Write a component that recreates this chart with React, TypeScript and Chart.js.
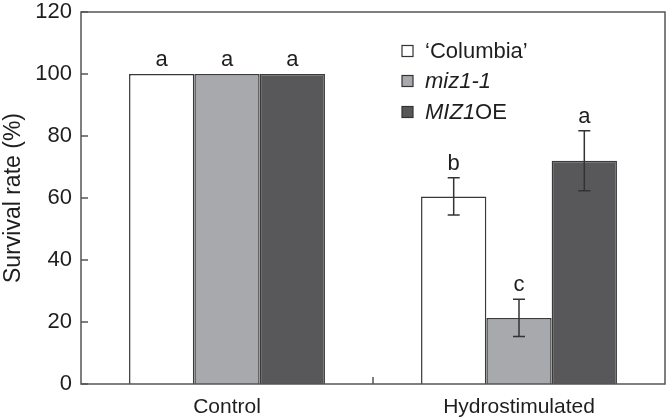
import React, { useEffect, useRef } from "react";
import { Chart, registerables } from "chart.js";

Chart.register(...registerables);

const categories = ["Control", "Hydrostimulated"];
const seriesNames = ["‘Columbia’", "miz1-1", "MIZ1OE"];
const columbia = [100, 60.5];
const miz1 = [100, 21.3];
const miz1oe = [100, 72];
const columbiaErr = [0, 6];
const miz1Err = [0, 6];
const miz1oeErr = [0, 9.7];
const columbiaLetters = ["a", "b"];
const miz1Letters = ["a", "c"];
const miz1oeLetters = ["a", "a"];
const yTicks = [0, 20, 40, 60, 80, 100, 120];

const FONT = "'Liberation Sans', Arial, Helvetica, sans-serif";
const fills = ["#ffffff", "#a8a9ac", "#58585a"];
const AXIS = "#555555";
const EDGE = "#3a3a3a";
const TXT = "#1e1e1e";

export default function App() {
  const ref = useRef<HTMLCanvasElement | null>(null);
  useEffect(() => {
    document.body.style.margin = "0";
    const errs = [columbiaErr, miz1Err, miz1oeErr];
    const letters = [columbiaLetters, miz1Letters, miz1oeLetters];
    const overlay = {
      id: "overlay",
      afterDatasetsDraw(chart: any) {
        const ctx = chart.ctx;
        const ca = chart.chartArea;
        const ys = chart.scales.y;
        const xs = chart.scales.x;
        ctx.save();
        ctx.strokeStyle = AXIS;
        ctx.lineWidth = 1.5;
        ctx.strokeRect(ca.left, ca.top, ca.right - ca.left, ca.bottom - ca.top);
        yTicks.forEach((v) => {
          const y = ys.getPixelForValue(v);
          ctx.beginPath();
          ctx.moveTo(ca.left, y);
          ctx.lineTo(ca.left + 7, y);
          ctx.stroke();
        });
        const mid = (xs.getPixelForValue(0) + xs.getPixelForValue(1)) / 2;
        ctx.beginPath();
        ctx.moveTo(mid, ca.bottom);
        ctx.lineTo(mid, ca.bottom - 7);
        ctx.stroke();
        ctx.strokeStyle = "#333333";
        ctx.fillStyle = TXT;
        ctx.font = `22px ${FONT}`;
        ctx.textAlign = "center";
        ctx.textBaseline = "bottom";
        chart.data.datasets.forEach((ds: any, di: number) => {
          const meta = chart.getDatasetMeta(di);
          meta.data.forEach((bar: any, i: number) => {
            const v = ds.data[i];
            const e = errs[di][i];
            let topY = ys.getPixelForValue(v);
            if (e > 0) {
              const yHi = ys.getPixelForValue(v + e);
              const yLo = ys.getPixelForValue(v - e);
              ctx.lineWidth = 1.5;
              ctx.beginPath();
              ctx.moveTo(bar.x, yHi);
              ctx.lineTo(bar.x, yLo);
              ctx.moveTo(bar.x - 6, yHi);
              ctx.lineTo(bar.x + 6, yHi);
              ctx.moveTo(bar.x - 6, yLo);
              ctx.lineTo(bar.x + 6, yLo);
              ctx.stroke();
              topY = yHi;
            }
            ctx.fillText(letters[di][i], bar.x, topY - 3);
          });
        });
        const lx = 402;
        const rows = [51, 81, 112];
        ctx.textAlign = "left";
        ctx.textBaseline = "middle";
        rows.forEach((ry, k) => {
          ctx.fillStyle = fills[k];
          ctx.fillRect(lx, ry - 5.5, 11, 11);
          ctx.strokeStyle = "#333333";
          ctx.lineWidth = 1.2;
          ctx.strokeRect(lx, ry - 5.5, 11, 11);
          ctx.fillStyle = TXT;
          const tx = 425;
          if (k === 0) {
            ctx.font = `22px ${FONT}`;
            ctx.fillText(seriesNames[0], tx, ry + 1);
          } else if (k === 1) {
            ctx.font = `italic 22px ${FONT}`;
            ctx.fillText(seriesNames[1], tx, ry + 1);
          } else {
            ctx.font = `italic 22px ${FONT}`;
            const a = "MIZ1";
            ctx.fillText(a, tx, ry + 1);
            const w = ctx.measureText(a).width;
            ctx.font = `22px ${FONT}`;
            ctx.fillText("OE", tx + w, ry + 1);
          }
        });
        ctx.restore();
      },
    };
    const mk = (label: string, data: number[], k: number) => ({
      label,
      data,
      backgroundColor: fills[k],
      borderColor: EDGE,
      borderWidth: 1.5,
      borderSkipped: "bottom" as const,
      categoryPercentage: 0.671,
      barPercentage: 1,
    });
    const chart = new Chart(ref.current as HTMLCanvasElement, {
      type: "bar",
      data: {
        labels: categories,
        datasets: [
          mk(seriesNames[0], columbia, 0),
          mk(seriesNames[1], miz1, 1),
          mk(seriesNames[2], miz1oe, 2),
        ],
      },
      plugins: [overlay],
      options: {
        animation: false,
        responsive: false,
        maintainAspectRatio: false,
        layout: { padding: { top: 12, right: 1, left: 0, bottom: 0 } },
        plugins: { legend: { display: false }, tooltip: { enabled: false } },
        scales: {
          x: {
            grid: { display: false },
            border: { display: false },
            ticks: { color: TXT, font: { family: FONT, size: 21 }, padding: 3 },
            afterFit: (s: any) => {
              s.height = 33;
            },
          },
          y: {
            min: 0,
            max: 120,
            afterBuildTicks: (s: any) => {
              s.ticks = yTicks.map((v) => ({ value: v }));
            },
            grid: { display: false },
            border: { display: false },
            ticks: { color: TXT, font: { family: FONT, size: 22, lineHeight: 1 }, padding: 1 },
            title: {
              display: true,
              text: "Survival rate (%)",
              color: TXT,
              font: { family: FONT, size: 23 },
              padding: { top: 0, bottom: 0 },
            },
            afterFit: (s: any) => {
              s.width = 81;
            },
          },
        },
      },
    });
    return () => chart.destroy();
  }, []);
  return (
    <div style={{ width: 666, height: 417, background: "#fff" }}>
      <canvas ref={ref} width={666} height={417} style={{ display: "block" }} />
    </div>
  );
}
